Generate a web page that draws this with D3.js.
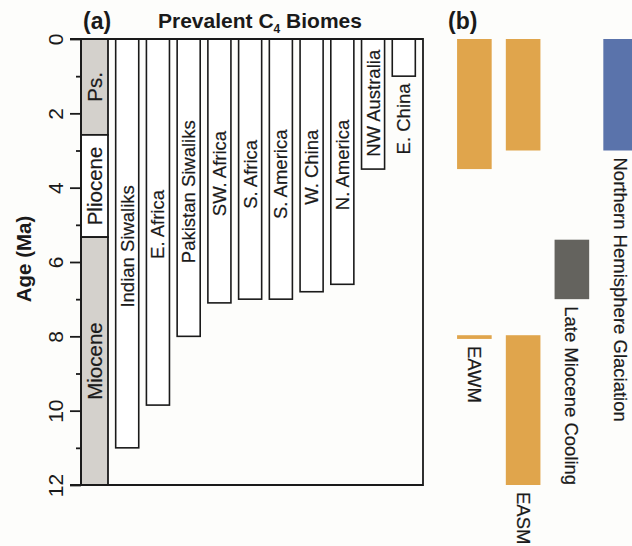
<!DOCTYPE html>
<html lang="en">
<head>
<meta charset="UTF-8">
<title>Prevalent C4 Biomes</title>
<script src="https://d3js.org/d3.v7.min.js"></script>
<style>
  body { margin: 0; background: #fdfdfb; }
  svg { display: block; font-family: "Liberation Sans", Arial, sans-serif; }
  .frame { fill: none; stroke: #1a1a1a; stroke-width: 1.8px; }
  .bar { fill: #fff; stroke: #1a1a1a; stroke-width: 1.6px; }
  .lbl { font-size: 18.5px; fill: #1a1a1a; stroke: #1a1a1a; stroke-width: 0.2px; }
  .axis path { display: none; }
  .axis line { stroke: #1a1a1a; stroke-width: 1.8px; }
  .axis text { font-size: 21px; fill: #1a1a1a; font-family: "Liberation Sans", Arial, sans-serif; }
</style>
</head>
<body>
<svg id="chart" width="632" height="546"></svg>
<script>
// ---- data (ages in Ma) ----
const biomes = ["Indian Siwaliks", "E. Africa", "Pakistan Siwaliks", "SW. Africa", "S. Africa",
                "S. America", "W. China", "N. America", "NW Australia", "E. China"];
const onsetAge = [11.0, 9.85, 8.0, 7.1, 7.0, 7.0, 6.8, 6.6, 3.5, 1.0];
// age where each biome label is centred
const labelAge = [5.58, 4.99, 4.11, 3.62, 3.64, 3.64, 3.45, 3.39, 1.73, 2.15];

const epochs = ["Ps.", "Pliocene", "Miocene"];
const epochTop = [0, 2.58, 5.33];
const epochBottom = [2.58, 5.33, 12];

const majorTicks = [0, 2, 4, 6, 8, 10, 12];
const minorTicks = [1, 3, 5, 7, 9, 11];

const events = ["EAWM", "EASM", "Late Miocene Cooling", "Northern Hemisphere Glaciation"];
const eventName = ["EAWM", "EAWM", "EASM", "EASM", "Late Miocene Cooling", "Northern Hemisphere Glaciation"];
const eventTop = [0, 7.97, 0, 7.97, 5.4, 0];
const eventBottom = [3.5, 8.07, 3.0, 12.0, 7.0, 3.0];

// ---- layout ----
const svg = d3.select("#chart");
const colour = { "EAWM": "#e0a54c", "EASM": "#e0a54c",
                 "Late Miocene Cooling": "#64635e", "Northern Hemisphere Glaciation": "#5a73ab" };

const y = d3.scaleLinear().domain([0, 12]).range([39, 485]);
const axisX = 81, colRight = 108, frameRight = 423;
const x = d3.scaleBand().domain(biomes).range([colRight, frameRight]).paddingInner(0.25).paddingOuter(0.25);
const xb = d3.scaleBand().domain(events).range([450, 645]).paddingInner(0.29).paddingOuter(0.145);

// epoch column
const ep = svg.append("g");
ep.selectAll("rect").data(epochs).join("rect")
  .attr("x", axisX).attr("width", colRight - axisX)
  .attr("y", (d, i) => y(epochTop[i]))
  .attr("height", (d, i) => y(epochBottom[i]) - y(epochTop[i]))
  .attr("fill", (d, i) => i === 1 ? "#fff" : "#d4d1cc")
  .attr("stroke", "#1a1a1a").attr("stroke-width", 1.8);
ep.selectAll("text").data(epochs).join("text")
  .attr("class", "lbl").style("font-size", "20.5px")
  .attr("text-anchor", "middle").attr("dy", "0.35em")
  .attr("transform", (d, i) => `translate(${(axisX + colRight) / 2},${(y(epochTop[i]) + y(epochBottom[i])) / 2}) rotate(-90)`)
  .text(d => d);

// biome bars
const bars = svg.append("g");
bars.selectAll("rect").data(biomes).join("rect")
  .attr("class", "bar")
  .attr("x", d => x(d)).attr("width", x.bandwidth())
  .attr("y", y(0))
  .attr("height", (d, i) => y(onsetAge[i]) - y(0));
bars.selectAll("text").data(biomes).join("text")
  .attr("class", "lbl")
  .attr("text-anchor", "middle").attr("dy", "0.35em")
  .attr("transform", (d, i) => `translate(${x(d) + x.bandwidth() / 2},${y(labelAge[i])}) rotate(-90)`)
  .text(d => d);

// frame
svg.append("path").attr("class", "frame")
  .attr("d", `M70,${y(0)}H${frameRight}V${y(12)}H70`);
svg.append("line").attr("class", "frame")
  .attr("x1", axisX).attr("x2", axisX).attr("y1", y(0)).attr("y2", y(12));

// axis
const ax = svg.append("g").attr("class", "axis").attr("transform", `translate(${axisX},0)`)
  .call(d3.axisLeft(y).tickValues(majorTicks).tickSize(11).tickFormat(d3.format("d")));
ax.selectAll("text")
  .attr("x", null).attr("dy", null)
  .attr("text-anchor", "middle")
  .attr("transform", "translate(-18,0) rotate(-90)");
svg.append("g").attr("class", "axis").attr("transform", `translate(${axisX},0)`)
  .call(d3.axisLeft(y).tickValues(minorTicks).tickSize(5).tickFormat(""));

svg.append("text")
  .attr("transform", `translate(31,${(y(0) + y(12)) / 2 - 3}) rotate(-90)`)
  .attr("text-anchor", "middle")
  .style("font-size", "20.5px").style("font-weight", "bold").attr("fill", "#1a1a1a")
  .text("Age (Ma)");

// titles
svg.append("text").attr("x", 83).attr("y", 29)
  .style("font-size", "23px").style("font-weight", "bold").attr("fill", "#1a1a1a").text("(a)");
svg.append("text").attr("x", 448).attr("y", 29)
  .style("font-size", "23px").style("font-weight", "bold").attr("fill", "#1a1a1a").text("(b)");
const title = svg.append("text").attr("x", 260).attr("y", 28).attr("text-anchor", "middle")
  .style("font-size", "21px").style("font-weight", "bold").attr("fill", "#1a1a1a");
title.append("tspan").text("Prevalent C");
title.append("tspan").attr("dy", 5).style("font-size", "12px").text("4");
title.append("tspan").attr("dy", -5).text(" Biomes");

// panel b
const pb = svg.append("g");
pb.selectAll("rect").data(eventName).join("rect")
  .attr("x", d => xb(d)).attr("width", xb.bandwidth())
  .attr("y", (d, i) => y(eventTop[i]))
  .attr("height", (d, i) => y(eventBottom[i]) - y(eventTop[i]))
  .attr("fill", d => colour[d]);
pb.selectAll("text").data(events).join("text")
  .attr("class", "lbl")
  .attr("dy", "0.35em")
  .attr("transform", d => {
    const end = d3.max(eventBottom.filter((v, i) => eventName[i] === d));
    return `translate(${xb(d) + xb.bandwidth() / 2},${y(end) + 7}) rotate(90)`;
  })
  .text(d => d);
</script>
</body>
</html>
